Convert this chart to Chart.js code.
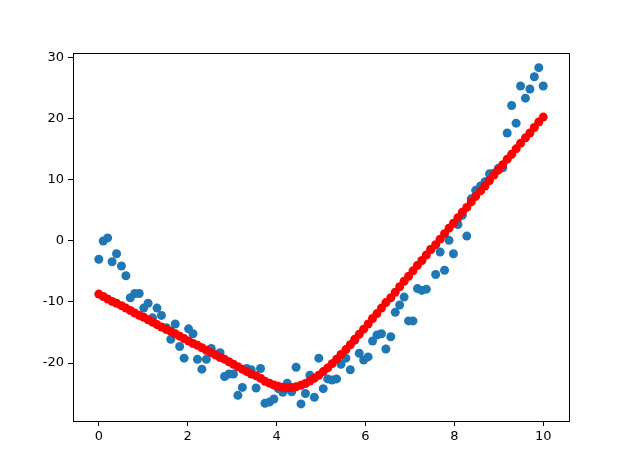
<!DOCTYPE html>
<html>
<head>
<meta charset="utf-8">
<script src="https://cdn.jsdelivr.net/npm/chart.js@4"></script>
<style>
  html, body { margin: 0; padding: 0; background: #fff; }
  #wrap { width: 621px; height: 465px; }
</style>
</head>
<body>
<div id="wrap"><canvas id="chart" width="621" height="465"></canvas></div>
<script>
// x positions: 100 samples from 0 to 10
const xValues = [
  0.00, 0.10, 0.20, 0.30, 0.40, 0.51, 0.61, 0.71, 0.81, 0.91,
  1.01, 1.11, 1.21, 1.31, 1.41, 1.52, 1.62, 1.72, 1.82, 1.92,
  2.02, 2.12, 2.22, 2.32, 2.42, 2.53, 2.63, 2.73, 2.83, 2.93,
  3.03, 3.13, 3.23, 3.33, 3.43, 3.54, 3.64, 3.74, 3.84, 3.94,
  4.04, 4.14, 4.24, 4.34, 4.44, 4.55, 4.65, 4.75, 4.85, 4.95,
  5.05, 5.15, 5.25, 5.35, 5.45, 5.56, 5.66, 5.76, 5.86, 5.96,
  6.06, 6.16, 6.26, 6.36, 6.46, 6.57, 6.67, 6.77, 6.87, 6.97,
  7.07, 7.17, 7.27, 7.37, 7.47, 7.58, 7.68, 7.78, 7.88, 7.98,
  8.08, 8.18, 8.28, 8.38, 8.48, 8.59, 8.69, 8.79, 8.89, 8.99,
  9.09, 9.19, 9.29, 9.39, 9.49, 9.60, 9.70, 9.80, 9.90, 10.00
];

// noisy observations (blue)
const observed = [
  -3.0, 0.0, 0.5, -3.4, -2.1, -4.1, -5.7, -9.3, -8.6, -8.6,
  -11.0, -10.2, -12.6, -11.0, -12.2, -14.2, -16.1, -13.6, -17.3, -19.2,
  -14.4, -15.2, -19.4, -21.0, -19.4, -17.6, -18.6, -18.3, -22.2, -21.8,
  -21.8, -25.3, -24.0, -20.9, -21.1, -24.1, -20.9, -26.6, -26.4, -25.9,
  -24.2, -24.8, -23.3, -24.7, -20.7, -26.7, -25.0, -22.0, -25.6, -19.2,
  -24.2, -22.6, -22.8, -22.6, -20.2, -19.2, -21.1, -16.3, -18.4, -19.5,
  -19.0, -16.4, -15.4, -15.2, -17.7, -15.7, -11.7, -10.5, -9.2, -13.1,
  -13.1, -7.8, -8.1, -7.9, -1.4, -5.5, -1.8, -4.8, 0.1, -2.1,
  2.7, 4.2, 0.8, 6.9, 8.3, 9.0, 9.7, 11.0, 11.1, 11.9,
  12.0, 17.7, 22.2, 19.3, 25.4, 23.4, 24.9, 26.9, 28.4, 25.4
];

// fitted values (red)
const fitted = [
  -8.7, -9.1, -9.5, -9.9, -10.2, -10.6, -11.0, -11.4, -11.8, -12.2,
  -12.5, -12.9, -13.3, -13.7, -14.1, -14.5, -14.8, -15.2, -15.6, -16.0,
  -16.4, -16.8, -17.1, -17.5, -17.9, -18.3, -18.7, -19.1, -19.4, -19.8,
  -20.2, -20.6, -21.0, -21.4, -21.8, -22.1, -22.5, -23.0, -23.3, -23.6,
  -23.8, -24.0, -24.05, -24.0, -23.9, -23.65, -23.35, -22.95, -22.5, -22.0,
  -21.4, -20.8, -20.1, -19.4, -18.6, -17.8, -17.0, -16.1, -15.3, -14.45,
  -13.6, -12.7, -11.9, -11.0, -10.1, -9.3, -8.4, -7.5, -6.6, -5.8,
  -4.9, -4.0, -3.2, -2.3, -1.4, -0.6, 0.3, 1.2, 2.1, 2.9,
  3.8, 4.7, 5.5, 6.4, 7.3, 8.2, 9.0, 9.9, 10.8, 11.6,
  12.5, 13.4, 14.2, 15.1, 16.0, 16.9, 17.7, 18.6, 19.5, 20.3
];

const xTicks = [0, 2, 4, 6, 8, 10];
const yTicks = [-20, -10, 0, 10, 20, 30];

const toPoints = (ys) => xValues.map((x, i) => ({ x: x, y: ys[i] }));

// black frame round the plot area, like matplotlib spines
const framePlugin = {
  id: 'frame',
  afterDraw: (chart) => {
    const { ctx, chartArea: a } = chart;
    ctx.save();
    ctx.strokeStyle = '#000';
    ctx.lineWidth = 1;
    ctx.strokeRect(Math.round(a.left) + 0.5, Math.round(a.top) + 0.5,
      Math.round(a.right - a.left), Math.round(a.bottom - a.top));
    ctx.restore();
  }
};

const tickFont = { family: 'DejaVu Sans', size: 13 };

const ctx = document.getElementById('chart').getContext('2d');
new Chart(ctx, {
  type: 'scatter',
  data: {
    datasets: [
      {
        label: 'data',
        data: toPoints(observed),
        backgroundColor: '#1f77b4',
        borderWidth: 0,
        pointRadius: 4.5,
        order: 2
      },
      {
        label: 'fit',
        data: toPoints(fitted),
        backgroundColor: '#ff0000',
        borderWidth: 0,
        pointRadius: 4.5,
        order: 1
      }
    ]
  },
  plugins: [framePlugin],
  options: {
    responsive: false,
    animation: false,
    layout: { padding: { top: 53, right: 52, left: 0, bottom: 0 } },
    plugins: { legend: { display: false }, tooltip: { enabled: false } },
    scales: {
      x: {
        type: 'linear',
        min: -0.58,
        max: 10.58,
        afterBuildTicks: (axis) => { axis.ticks = xTicks.map(v => ({ value: v })); },
        afterFit: (axis) => { axis.height = 44; },
        grid: { drawOnChartArea: false, color: '#000', tickLength: 5, tickWidth: 1 },
        border: { display: false },
        ticks: { color: '#000', font: tickFont, padding: 3, maxRotation: 0 }
      },
      y: {
        type: 'linear',
        min: -29.5,
        max: 30.8,
        afterBuildTicks: (axis) => { axis.ticks = yTicks.map(v => ({ value: v })); },
        afterFit: (axis) => { axis.width = 73; },
        grid: { drawOnChartArea: false, color: '#000', tickLength: 5, tickWidth: 1 },
        border: { display: false },
        ticks: { color: '#000', font: tickFont, padding: 4 }
      }
    }
  }
});
</script>
</body>
</html>
